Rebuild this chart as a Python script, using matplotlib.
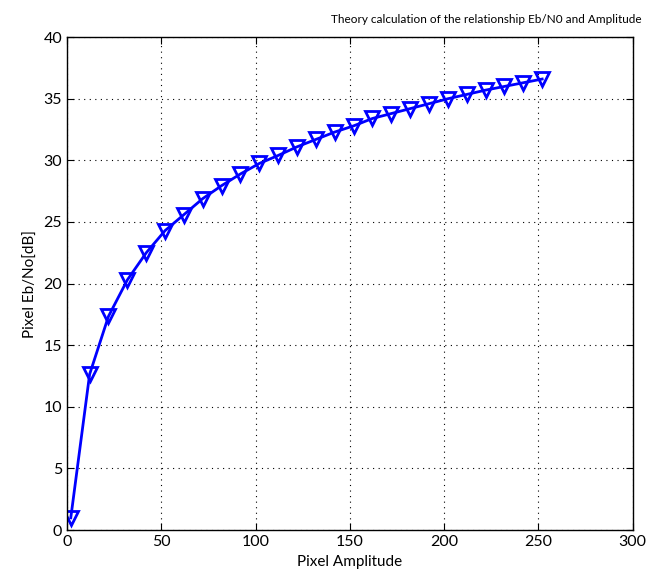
import matplotlib
matplotlib.use('Agg')
import matplotlib.pyplot as plt

# pixel amplitude vs. theoretical Eb/No
amplitude = [2, 12, 22, 32, 42, 52, 62, 72, 82, 92, 102, 112, 122,
             132, 142, 152, 162, 172, 182, 192, 202, 212, 222, 232, 242, 252]
ebno_db = [1.0, 12.65, 17.35, 20.3, 22.5, 24.3, 25.6, 26.9, 27.95, 28.9, 29.75, 30.4, 31.1,
           31.7, 32.3, 32.8, 33.4, 33.8, 34.2, 34.6, 35.0, 35.35, 35.7, 36.0, 36.3, 36.6]

plt.rcParams['font.family'] = ['Lato', 'DejaVu Sans']

fig = plt.figure(figsize=(6.57, 5.80), dpi=100)
ax = fig.add_axes([0.102, 0.086, 0.861, 0.850])

ax.plot(amplitude, ebno_db, color='#0000ff', linewidth=2, marker='v',
        markersize=10, markerfacecolor='none', markeredgecolor='#0000ff',
        markeredgewidth=2)

ax.set_xlim(0, 300)
ax.set_ylim(0, 40)
ax.set_xticks(range(0, 301, 50))
ax.set_yticks(range(0, 41, 5))
ax.grid(True, color='black', linestyle=(0, (1, 4)), linewidth=0.8)
ax.tick_params(direction='in', top=True, right=True, labelsize=11.5, length=5)
for s in ax.spines.values():
    s.set_linewidth(1.0)

ax.set_xlabel('Pixel Amplitude', fontsize=11)
ax.set_ylabel('Pixel Eb/No[dB]', fontsize=11)
fig.text(0.504, 0.967, 'Theory calculation of the relationship Eb/N0 and Amplitude',
         ha='left', va='center', fontsize=8.5)

fig.savefig('out.png', dpi=100)
